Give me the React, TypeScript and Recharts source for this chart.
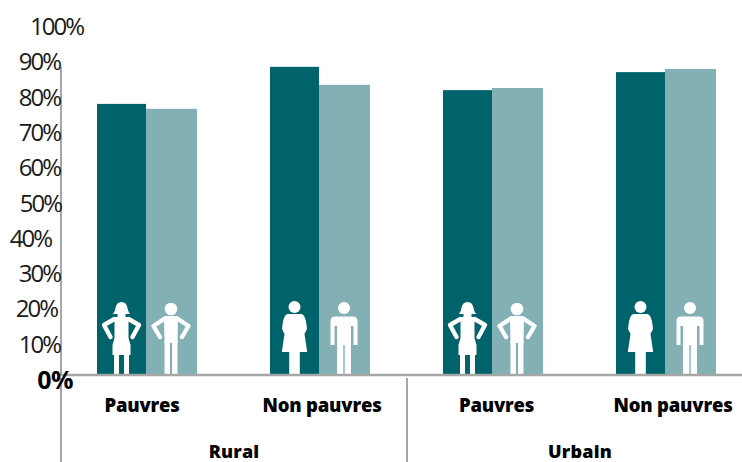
import React from 'react';
import { BarChart, Bar, XAxis, YAxis } from 'recharts';

const groups = ['Pauvres', 'Non pauvres', 'Pauvres', 'Non pauvres'];
const regions = ['Rural', 'Rural', 'Urbain', 'Urbain'];
const femmes = [76.8, 87.3, 80.7, 85.8];
const hommes = [75.4, 82.2, 81.3, 86.7];
const yTicks = [0, 10, 20, 30, 40, 50, 60, 70, 80, 90, 100];

const data = groups.map((group, i) => ({
    group,
    region: regions[i],
    femmes: femmes[i],
    hommes: hommes[i],
}));

const DARK = '#00626a';
const LIGHT = '#82b0b5';
const AXIS = '#a6a6a6';
const TEXT = '#1a1a1a';
const FONT = '"Open Sans", "Noto Sans", sans-serif';

// the labels sit a bit off in the original: [right edge relative to axis, y relative to tick]
const tickNudge: Record<number, [number, number]> = {
    0: [13, 14],
    10: [0, 13],
    20: [-3, 13],
    30: [0, 13],
    40: [-9, 13],
    50: [1, 13],
    60: [0, 13],
    70: [0, 13],
    80: [0, 13],
    90: [0, 13],
    100: [23, 13],
};
const groupLabelNudge = [-4.5, 2.5, 4, 7.5];

const Limbs = ({ d }: { d: string }) => (
    <path d={d} fill="none" stroke="white" strokeWidth={4.4} strokeLinecap="round" strokeLinejoin="round" />
);

// Figures are drawn from (0,0) = middle of the bar foot
const Girl = () => (
    <g fill="white">
        <path d="M-9,-61 Q-7,-62 -6,-67 Q-5,-73 0,-73 Q5,-73 6,-67 Q7,-62 9,-61 Z" />
        <rect x={-4} y={-62} width={8} height={4} />
        <Limbs d="M-7,-56 L-17.5,-50 L-11,-38 M7,-56 L17.5,-50 L11,-38" />
        <path d="M-7,-58 L7,-58 L7,-37 L9,-30 L9,-20 L-9,-20 L-9,-30 L-7,-37 Z" />
        <rect x={-7.5} y={-22} width={5} height={22} />
        <rect x={2.5} y={-22} width={5} height={22} />
    </g>
);

const Boy = () => (
    <g fill="white">
        <circle cx={0} cy={-66} r={6.3} />
        <Limbs d="M-7,-56 L-17.5,-49 L-11,-38 M7,-56 L17.5,-49 L11,-38" />
        <path d="M-7,-59 L7,-59 L6.5,-32 L-6.5,-32 Z" />
        <rect x={-6.5} y={-34} width={5.5} height={34} />
        <rect x={1} y={-34} width={5.5} height={34} />
    </g>
);

const Woman = () => (
    <g fill="white">
        <circle cx={0} cy={-68} r={6} />
        <path d="M-7,-61 L7,-61 Q11,-60 12,-50 L12.5,-46 L10,-41 L12.7,-23 L-12.7,-23 L-10,-41 L-12.5,-46 L-12,-50 Q-11,-60 -7,-61 Z" />
        <rect x={-5.3} y={-25} width={10.6} height={24} />
    </g>
);

const Man = () => (
    <g fill="white">
        <circle cx={0} cy={-67} r={6} />
        <path d="M-9,-58.5 L9,-58.5 Q13.5,-58.5 13.5,-54 L13.5,-30 L9.5,-30 L9.5,-49 L7,-49 L7,0 L0.7,0 L0.7,-30 L-0.7,-30 L-0.7,0 L-7,0 L-7,-49 L-9.5,-49 L-9.5,-30 L-13.5,-30 L-13.5,-54 Q-13.5,-58.5 -9,-58.5 Z" />
    </g>
);

const BarWithFigure = (props: any) => {
    const { x, y, width, height, fill, index, female } = props;
    const isPoor = index % 2 === 0;
    let figure = <Man />;
    if (female) figure = isPoor ? <Girl /> : <Woman />;
    else if (isPoor) figure = <Boy />;
    // the dark bar is a pixel narrower in the original, the light one starts right on its edge
    const rectX = female ? x : x - 1;
    const rectW = female ? width - 1 : width + 1;
    return (
        <g>
            <rect x={rectX} y={y} width={rectW} height={height} fill={fill} />
            <g transform={`translate(${rectX + rectW / 2 - (female ? 0 : 0.5)},${y + height})`}>{figure}</g>
        </g>
    );
};

const PercentTick = (props: any) => {
    const { x, y, payload } = props;
    const [dx, dy] = tickNudge[payload.value];
    const isZero = payload.value === 0;
    return (
        <g>
            {isZero && <line x1={x + 1} x2={x + 1} y1={y} y2={y - 308} stroke={AXIS} strokeWidth={2} />}
            <text
                x={x + dx}
                y={y + dy}
                textAnchor="end"
                fontFamily={FONT}
                fontSize={isZero ? 25 : 24}
                fontWeight={isZero ? 700 : 400}
                fill={isZero ? '#000' : TEXT}
                letterSpacing={isZero ? -0.5 : -2}
            >
                {payload.value}%
            </text>
        </g>
    );
};

const GroupTick = (props: any) => {
    const { x, y, payload, index } = props;
    return (
        <text
            x={x + groupLabelNudge[index]}
            y={y + 29}
            textAnchor="middle"
            fontFamily={FONT}
            fontSize={18.5}
            fontWeight={800}
            fill="#000"
            letterSpacing={-0.2}
        >
            {payload.value}
        </text>
    );
};

const RegionTick = (props: any) => {
    const { x, y, payload } = props;
    return (
        <g>
            <line x1={x - 173 + 1} x2={x - 173 + 1} y1={y - 50} y2={y + 40} stroke={AXIS} strokeWidth={2} />
            <text x={x + 1} y={y + 30} textAnchor="middle" fontFamily={FONT} fontSize={18} fontWeight={800} fill="#000" letterSpacing={0.2}>
                {payload.value}
            </text>
        </g>
    );
};

export default function App() {
    return (
        <div style={{ position: 'absolute', left: 0, top: 0, width: 742, height: 462, overflow: 'hidden', background: 'white' }}>
            <BarChart
                width={760}
                height={462}
                data={data}
                barSize={50}
                barGap={0}
                margin={{ top: 22, right: 8, bottom: 0, left: 0 }}
            >
                <XAxis
                    xAxisId="group"
                    dataKey="group"
                    height={45}
                    interval={0}
                    tickLine={false}
                    axisLine={{ stroke: AXIS, strokeWidth: 2.4 }}
                    tick={<GroupTick />}
                />
                <XAxis
                    xAxisId="region"
                    dataKey="region"
                    allowDuplicatedCategory={false}
                    height={42}
                    interval={0}
                    tickLine={false}
                    axisLine={false}
                    tick={<RegionTick />}
                />
                <YAxis
                    domain={[0, 100]}
                    ticks={yTicks}
                    width={60}
                    interval={0}
                    tickLine={false}
                    axisLine={false}
                    tickSize={0}
                    tickMargin={0}
                    tick={<PercentTick />}
                />
                <Bar
                    xAxisId="group"
                    dataKey="femmes"
                    fill={DARK}
                    isAnimationActive={false}
                    shape={(p: any) => <BarWithFigure {...p} female />}
                />
                <Bar
                    xAxisId="group"
                    dataKey="hommes"
                    fill={LIGHT}
                    isAnimationActive={false}
                    shape={(p: any) => <BarWithFigure {...p} />}
                />
            </BarChart>
        </div>
    );
}
